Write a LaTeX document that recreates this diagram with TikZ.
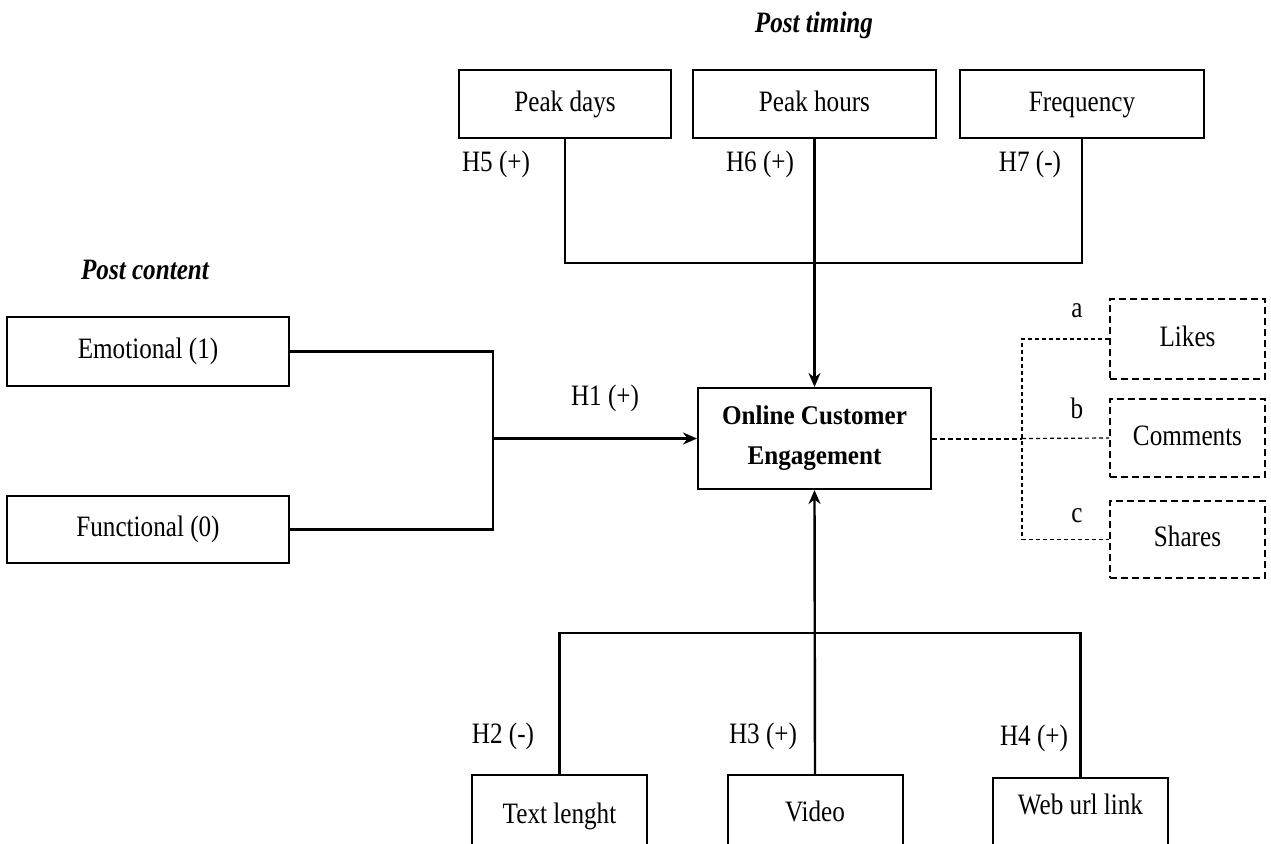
\documentclass[tikz,border=0pt]{standalone}
\usepackage{fontspec}
\setmainfont{Liberation Serif}[FakeStretch=0.85]
\newfontfamily\titlefont{Liberation Serif}[FakeStretch=0.93]
\usetikzlibrary{arrows.meta}
\begin{document}
\begin{tikzpicture}[x=0.5pt, y=-0.5pt, font=\fontsize{14.8}{17}\selectfont,
    box/.style={draw, line width=1pt, inner sep=0pt},
    line/.style={text height=10pt, text depth=3pt},
    dimbox/.style={draw, line width=1pt, dash pattern=on 3.5pt off 2pt, inner sep=0pt, minimum width=77.5pt, minimum height=39pt, line},
    heading/.style={font=\fontsize{14.8}{17}\selectfont\bfseries\itshape},
    link/.style={line width=1.2pt},
    arr/.style={link, -{Stealth[length=7pt, width=6pt]}}]
    \useasboundingbox (0,0) rectangle (1271,843);
    \clip (0,0) rectangle (1271,843);
    % Headings
    \node[heading] (timing) at (814,25) {Post timing};
    \node[heading] (content) at (145,270) {Post content};
    % Post timing
    \node[box, line, minimum width=106pt, minimum height=34pt] (days) at (565,104) {Peak days};
    \node[box, line, minimum width=121.5pt, minimum height=34pt] (hours) at (814.5,104) {Peak hours};
    \node[box, line, minimum width=122pt, minimum height=34pt] (freq) at (1082,104) {Frequency};
    % Post content
    \node[box, line, minimum width=141pt, minimum height=34.5pt] (emo) at (148,351.5) {Emotional (1)};
    \node[box, line, minimum width=141pt, minimum height=33.5pt] (func) at (148,529.5) {Functional (0)};
    % Engagement
    \node[box, minimum width=116.5pt, minimum height=50.5pt, align=center,
        font=\titlefont\bfseries\fontsize{13.5}{20}\selectfont] (oce) at (814.5,438.5) {Online Customer\\Engagement};
    % Dimensions of engagement
    \node[dimbox, minimum height=40pt] (likes) at (1187.5,339) {Likes};
    \node[dimbox] (comments) at (1187.5,438) {Comments};
    \node[dimbox, minimum height=38.5pt] (shares) at (1187.5,539.5) {Shares};
    % Post type
    \node[box, anchor=north, minimum width=87.5pt, text height=24pt, text depth=40pt] (textlen) at (559.5,774) {Text lenght};
    \node[box, anchor=north, minimum width=87.5pt, text height=23pt, text depth=40pt] (video) at (815,774) {Video};
    \node[box, anchor=north, minimum width=87.5pt, text height=18pt, text depth=40pt] (weburl) at (1080.5,777) {Web url link};
    % Hypotheses
    \foreach \n/\t/\x/\y in {h5/{H5 (+)}/496/164, h6/{H6 (+)}/760/164, h7/{H7 (-)}/1030/164,
        h1/{H1 (+)}/605/398, h2/{H2 (-)}/503/736, h3/{H3 (+)}/763/736, h4/{H4 (+)}/1034/738} {
        \node (\n) at (\x,\y) {\t};
    }
    \foreach \t/\y in {a/311, b/408, c/516} {
        \node (lbl\t) at (1077,\y) {\t};
    }
    % Connectors
    \coordinate (topjoin) at (815,263);
    \draw[link] (days.south) |- (topjoin) -| (freq.south);
    \draw[arr] (hours.south) -- (oce.north);
    \coordinate (leftjoin) at (493,438.5);
    \draw[link] (emo.east) -| (leftjoin) |- (func.east);
    \draw[arr] (leftjoin) -- (oce.west);
    \coordinate (botjoin) at (815,633);
    \draw[link] (textlen.north) |- (botjoin) -| (weburl.north);
    \draw[arr] (video.north) -- (oce.south);
    \coordinate (dimjoin) at (1022,438.5);
    \draw[line width=1pt, dash pattern=on 2.5pt off 1.5pt] (oce.east) -- (dimjoin);
    \draw[line width=0.6pt, dash pattern=on 2pt off 1.5pt] (likes.west) -| (dimjoin) |- (shares.west);
    \draw[line width=0.6pt, dash pattern=on 2pt off 1.5pt] (dimjoin) -- (comments.west);
\end{tikzpicture}
\end{document}
